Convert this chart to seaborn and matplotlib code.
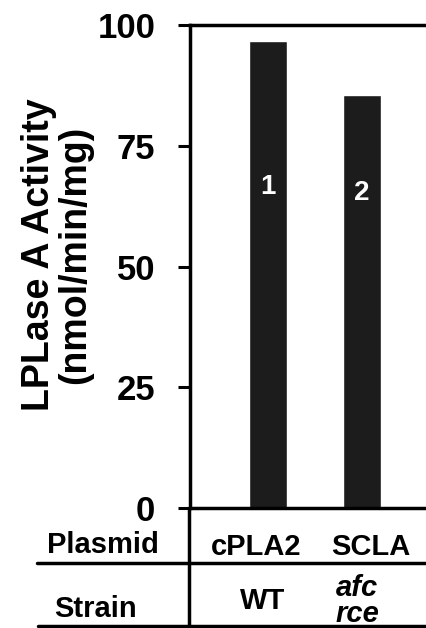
import matplotlib
matplotlib.use("Agg")
import matplotlib.pyplot as plt
import seaborn as sns
import pandas as pd
from matplotlib.lines import Line2D
from matplotlib.transforms import ScaledTranslation

# data
plasmids = ["cPLA2", "SCLA"]
activity = [96.7, 85.5]
bar_numbers = ["1", "2"]
strains = ["WT", "afc\nrce"]
strain_italic = [False, True]
y_ticks = [0, 25, 50, 75, 100]

sns.set_style("ticks")
plt.rcParams["font.family"] = ["Liberation Sans", "DejaVu Sans"]
plt.rcParams["font.weight"] = "bold"
plt.rcParams["text.color"] = "black"
plt.rcParams["axes.labelcolor"] = "black"
plt.rcParams["xtick.color"] = "black"
plt.rcParams["ytick.color"] = "black"

df = pd.DataFrame({"Plasmid": plasmids, "Activity": activity})

fig = plt.figure(figsize=(4.27, 6.28), dpi=100)
ax = fig.add_axes([190 / 427, 1 - 508 / 628, 237 / 427, 483 / 628])

sns.barplot(data=df, x="Plasmid", y="Activity", color="#1c1c1c",
            saturation=1, width=0.40, ax=ax)

# white number inside each bar
for i, lab in enumerate(bar_numbers):
    ax.text(i, 66.5 - i * 1.3, lab, color="white", fontsize=20,
            fontweight="bold", ha="center", va="center")

ax.set_ylim(0, 100)
ax.set_xlim(-0.83, 1.69)
ax.set_yticks(y_ticks)
ax.set_yticklabels([str(t) for t in y_ticks], fontsize=25, fontweight="bold")
ax.tick_params(axis="y", length=9, width=2.2, pad=16, colors="black")
ax.tick_params(axis="x", length=0, pad=18, colors="black")
ax.set_xticks(range(len(plasmids)))
ax.set_xticklabels(plasmids, fontsize=21, fontweight="bold")
# plasmid names sit a little off the bar centres in the original
for lbl, dx in zip(ax.get_xticklabels(), [-12, 9]):
    lbl.set_transform(lbl.get_transform() + ScaledTranslation(dx / 100, 0, fig.dpi_scale_trans))
ax.set_xlabel("")
ax.set_ylabel("LPLase A Activity\n(nmol/min/mg)", fontsize=27,
              fontweight="bold", linespacing=1.0)
ax.yaxis.set_label_coords(-0.41, 0.525)

for side in ["left", "top", "bottom"]:
    ax.spines[side].set_linewidth(2.5)
    ax.spines[side].set_color("black")
ax.spines["right"].set_visible(False)

# table part below the axis
def fx(px):
    return px / 427

def fy(py):
    return 1 - py / 628

fig.add_artist(Line2D([fx(189), fx(189)], [fy(508), fy(628)], color="black", lw=2.5))
fig.add_artist(Line2D([fx(37), 1], [fy(563), fy(563)], color="black", lw=2.5))
fig.add_artist(Line2D([fx(38), 1], [fy(626), fy(626)], color="black", lw=2.5))

fig.text(fx(103), fy(545), "Plasmid", fontsize=21, fontweight="bold",
         ha="center", va="center")
fig.text(fx(96), fy(609), "Strain", fontsize=21, fontweight="bold",
         ha="center", va="center")

for i, (s, it) in enumerate(zip(strains, strain_italic)):
    ax.annotate(s, xy=(i, 0), xycoords=("data", "axes fraction"),
                xytext=(-5, -93), textcoords="offset pixels",
                fontsize=21, fontweight="bold",
                style="italic" if it else "normal",
                ha="center", va="center", linespacing=0.92)

fig.savefig("out.png", dpi=100)
